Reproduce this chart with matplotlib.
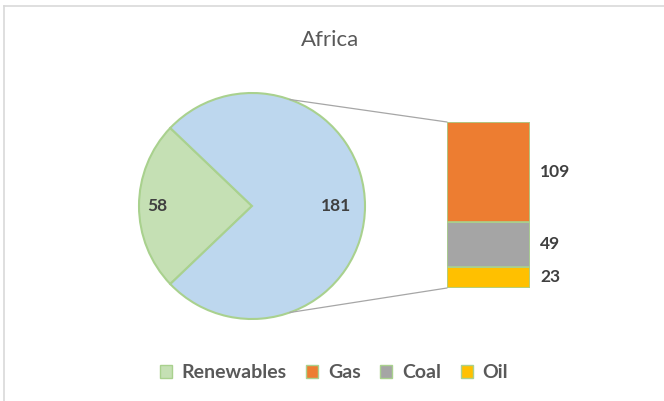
import matplotlib.pyplot as plt
from matplotlib.patches import Patch, ConnectionPatch
from matplotlib.lines import Line2D
import numpy as np

plt.rcParams['font.family'] = ['Lato', 'DejaVu Sans']

# data
title = "Africa"
pie_labels = ["Renewables", "Other"]
pie_values = [58, 181]
bar_labels = ["Gas", "Coal", "Oil"]
bar_values = [109, 49, 23]

c_green = "#C5E0B4"
c_blue = "#BDD7EE"
bar_colors = ["#ED7D31", "#A5A5A5", "#FFC000"]
edge = "#A9D18E"
txt = "#404040"

W, H = 664, 401
fig = plt.figure(figsize=(W / 100, H / 100), dpi=100)

# main axes in pixel coordinates
ax = fig.add_axes([0, 0, 1, 1])

# pie
cx, cy, r = 252, H - 206, 113
theta = pie_values[0] / sum(pie_values) * 360
wedges, _ = ax.pie(pie_values, colors=[c_green, c_blue], center=(cx, cy), radius=r,
                   startangle=180 - theta / 2, counterclock=True,
                   wedgeprops=dict(edgecolor=edge, linewidth=1.5), frame=True)
ax.set_xlim(0, W)
ax.set_ylim(0, H)
ax.set_aspect('equal')
ax.axis('off')

ax.text(cx - 0.84 * r, cy, str(pie_values[0]), ha='center', va='center',
        fontsize=12.5, fontweight='bold', color=txt)
ax.text(cx + 0.74 * r, cy, str(pie_values[1]), ha='center', va='center',
        fontsize=12.5, fontweight='bold', color=txt)

# bar of the "other" slice
bx0, bx1, by0, by1 = 447, 530, H - 288, H - 122
bax = fig.add_axes([bx0 / W, by0 / H, (bx1 - bx0) / W, (by1 - by0) / H])
bax.set_xlim(-0.5, 0.5)
bax.set_ylim(0, sum(bar_values))
bax.axis('off')
bottom = 0
for lab, v, c in zip(reversed(bar_labels), reversed(bar_values), reversed(bar_colors)):
    bax.bar(0, v, bottom=bottom, width=1, color=c, edgecolor=edge, linewidth=1.2)
    bax.text(0.62, bottom + v / 2, str(v), ha='left', va='center',
             fontsize=12.5, fontweight='bold', color=txt)
    bottom += v

# connector lines
ang = np.deg2rad(70.5)
for sgn, ybar in [(1, sum(bar_values)), (-1, 0)]:
    p = (cx + r * np.cos(ang), cy + sgn * r * np.sin(ang))
    con = ConnectionPatch(xyA=p, coordsA=ax.transData, xyB=(-0.5, ybar), coordsB=bax.transData,
                          color="#A6A6A6", linewidth=0.9)
    fig.add_artist(con)

# title
fig.text(0.497, 1 - 40 / H, title, ha='center', va='center', fontsize=16, color="#595959")

# legend
handles = [Patch(facecolor=c_green, edgecolor=edge)] + \
          [Patch(facecolor=c, edgecolor=edge) for c in bar_colors]
leg = fig.legend(handles, [pie_labels[0]] + bar_labels, loc='center', bbox_to_anchor=(0.503, 1 - 373 / H),
                 ncol=4, frameon=False, handlelength=0.62, handleheight=0.62, handletextpad=0.5,
                 columnspacing=1.0, prop=dict(size=14, weight='bold'))
for t in leg.get_texts():
    t.set_color("#595959")

# chart frame (top and left edges)
fig.add_artist(Line2D([4 / W, 1], [1 - 6 / H, 1 - 6 / H], color="#D9D9D9", linewidth=1.2))
fig.add_artist(Line2D([4 / W, 4 / W], [0, 1 - 6 / H], color="#D9D9D9", linewidth=1.2))

fig.savefig("out.png", dpi=100)
